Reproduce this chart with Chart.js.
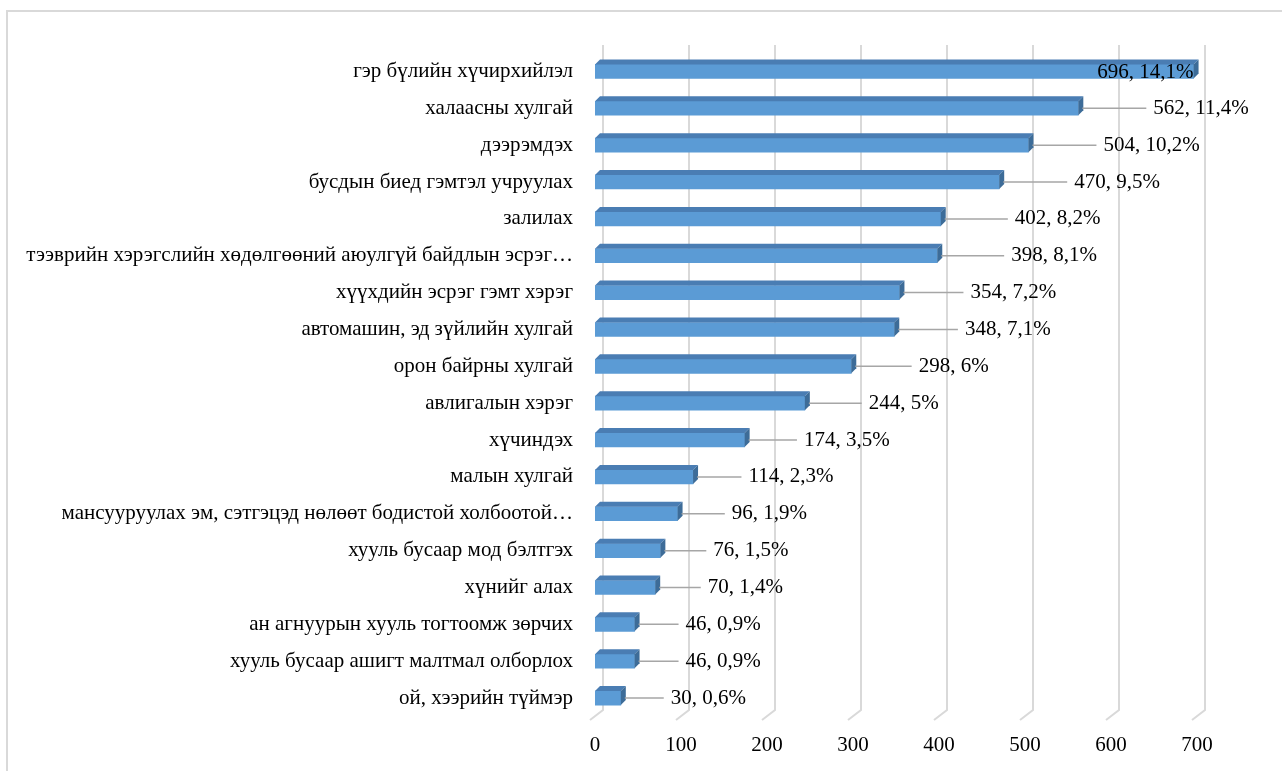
<!DOCTYPE html>
<html>
<head>
<meta charset="utf-8">
<script src="https://cdn.jsdelivr.net/npm/chart.js@4.4.0/dist/chart.umd.min.js"></script>
<style>
    html, body { margin: 0; padding: 0; background: #fff; overflow: hidden; }
    .frame {
        position: absolute; left: 6px; top: 10px; width: 1290px; height: 780px;
        border-left: 2px solid #d9d9d9; border-top: 2px solid #d9d9d9;
    }
    #crimeChart { position: absolute; left: 0; top: 0; }
</style>
</head>
<body>
<div class="frame"></div>
<canvas id="crimeChart" width="1282" height="771"></canvas>
<script>
// Data
const categories = [
    'гэр бүлийн хүчирхийлэл',
    'халаасны хулгай',
    'дээрэмдэх',
    'бусдын биед гэмтэл учруулах',
    'залилах',
    'тээврийн хэрэгслийн хөдөлгөөний аюулгүй байдлын эсрэг…',
    'хүүхдийн эсрэг гэмт хэрэг',
    'автомашин, эд зүйлийн хулгай',
    'орон байрны хулгай',
    'авлигалын хэрэг',
    'хүчиндэх',
    'малын хулгай',
    'мансууруулах эм, сэтгэцэд нөлөөт бодистой холбоотой…',
    'хууль бусаар мод бэлтгэх',
    'хүнийг алах',
    'ан агнуурын хууль тогтоомж зөрчих',
    'хууль бусаар ашигт малтмал олборлох',
    'ой, хээрийн түймэр'
];
const counts = [696, 562, 504, 470, 402, 398, 354, 348, 298, 244, 174, 114, 96, 76, 70, 46, 46, 30];
const shares = [14.1, 11.4, 10.2, 9.5, 8.2, 8.1, 7.2, 7.1, 6, 5, 3.5, 2.3, 1.9, 1.5, 1.4, 0.9, 0.9, 0.6];
const xTicks = [0, 100, 200, 300, 400, 500, 600, 700];

const FONT = 'Liberation Serif, Times New Roman, serif';
const DEPTH = 5;

document.addEventListener('DOMContentLoaded', () => {
    setupChart();
});

// Back-wall gridlines with a slanted foot, like Excel's 3D chart
const gridPlugin = {
    id: 'grid3d',
    beforeDatasetsDraw(chart) {
        const ctx = chart.ctx;
        const xs = chart.scales.x;
        ctx.save();
        ctx.strokeStyle = '#d9d9d9';
        ctx.lineWidth = 2;
        xTicks.forEach(v => {
            const x = xs.getPixelForValue(v);
            ctx.beginPath();
            ctx.moveTo(x + 8, 45);
            ctx.lineTo(x + 8, 710);
            ctx.lineTo(x - 5, 720);
            ctx.stroke();
        });
        ctx.restore();
    }
};

// Top and side faces of the bars
const barPlugin = {
    id: 'bars3d',
    afterDatasetsDraw(chart) {
        const ctx = chart.ctx;
        const meta = chart.getDatasetMeta(0);
        ctx.save();
        meta.data.forEach(bar => {
            const x0 = bar.base, x1 = bar.x;
            const y0 = bar.y - bar.height / 2, y1 = bar.y + bar.height / 2;
            // top face
            ctx.fillStyle = '#4a7db3';
            ctx.beginPath();
            ctx.moveTo(x0, y0);
            ctx.lineTo(x0 + DEPTH, y0 - DEPTH);
            ctx.lineTo(x1 + DEPTH, y0 - DEPTH);
            ctx.lineTo(x1, y0);
            ctx.closePath();
            ctx.fill();
            // right face
            ctx.fillStyle = '#3d6c98';
            ctx.beginPath();
            ctx.moveTo(x1, y0);
            ctx.lineTo(x1 + DEPTH, y0 - DEPTH);
            ctx.lineTo(x1 + DEPTH, y1 - DEPTH);
            ctx.lineTo(x1, y1);
            ctx.closePath();
            ctx.fill();
        });
        ctx.restore();
    }
};

// Value labels "n, p%" with leader lines
const labelPlugin = {
    id: 'valueLabels',
    afterDatasetsDraw(chart) {
        const ctx = chart.ctx;
        const meta = chart.getDatasetMeta(0);
        ctx.save();
        ctx.font = '21px ' + FONT;
        ctx.textBaseline = 'middle';
        ctx.fillStyle = '#000';
        meta.data.forEach((bar, i) => {
            const text = counts[i] + ', ' + String(shares[i]).replace('.', ',') + '%';
            const w = ctx.measureText(text).width;
            const end = bar.x + DEPTH - 1;
            // longer bars push their label a bit further out
            const gap = Math.min(75, 48 + 0.065 * counts[i]);
            const start = bar.x + gap;
            if (start + w > chart.width - 8) {
                ctx.textAlign = 'right';
                ctx.fillText(text, bar.x, bar.y + 1);
                return;
            }
            ctx.strokeStyle = '#a6a6a6';
            ctx.lineWidth = 1.5;
            ctx.beginPath();
            ctx.moveTo(end, bar.y);
            ctx.lineTo(start - 7, bar.y);
            ctx.stroke();
            ctx.textAlign = 'left';
            ctx.fillText(text, start, bar.y);
        });
        ctx.restore();
    }
};

function setupChart() {
    const ctx = document.getElementById('crimeChart');
    if (typeof Chart === 'undefined' || !ctx) return;

    new Chart(ctx, {
        type: 'bar',
        data: {
            labels: categories,
            datasets: [{
                data: counts,
                backgroundColor: '#5b9bd5',
                borderWidth: 0,
                barThickness: 14
            }]
        },
        options: {
            indexAxis: 'y',
            responsive: false,
            animation: false,
            devicePixelRatio: 1,
            layout: { padding: { top: 53, right: 85, bottom: 0, left: 0 } },
            plugins: {
                legend: { display: false },
                tooltip: { enabled: false }
            },
            scales: {
                x: {
                    min: 0,
                    max: 700,
                    afterBuildTicks: scale => {
                        scale.ticks = xTicks.map(v => ({ value: v }));
                    },
                    afterFit: scale => { scale.height = 54.5; },
                    grid: { display: false, drawTicks: false },
                    border: { display: false },
                    ticks: {
                        padding: 16,
                        color: '#000',
                        font: { family: FONT, size: 21 }
                    }
                },
                y: {
                    afterFit: scale => { scale.width = 595; },
                    grid: { display: false, drawTicks: false },
                    border: { display: false },
                    ticks: {
                        padding: 22,
                        color: '#000',
                        autoSkip: false,
                        font: { family: FONT, size: 21 }
                    }
                }
            }
        },
        plugins: [gridPlugin, barPlugin, labelPlugin]
    });
}
</script>
</body>
</html>
